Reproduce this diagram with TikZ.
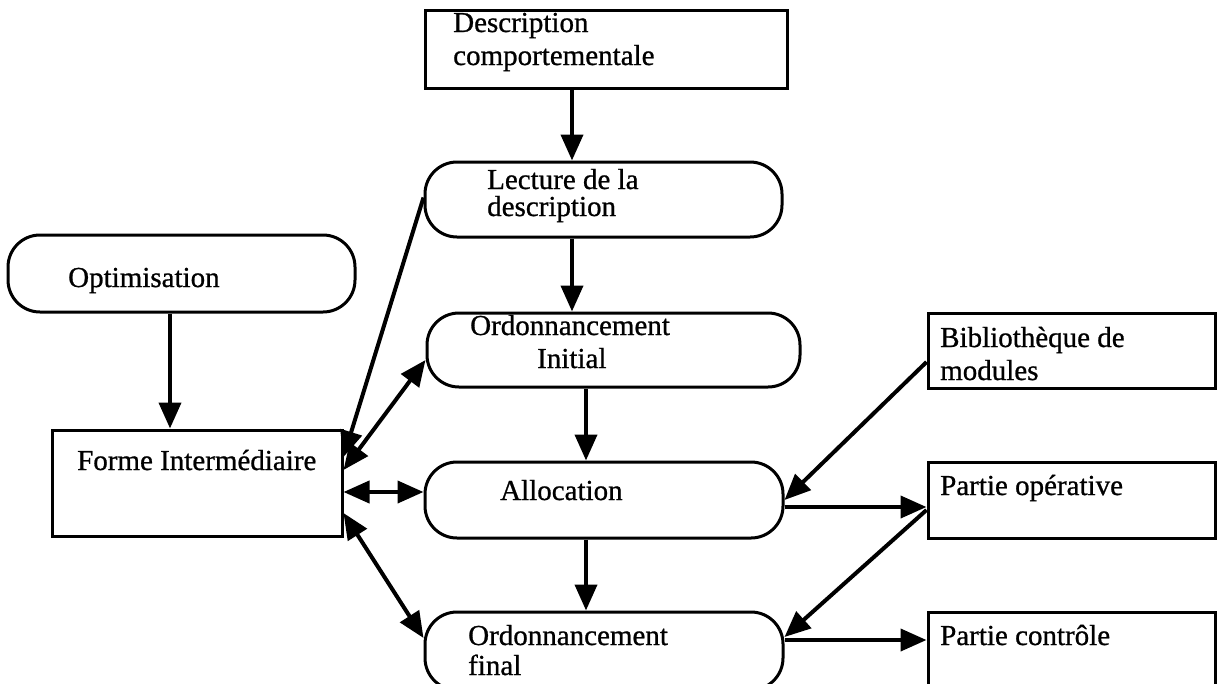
\documentclass[tikz,border=0pt]{standalone}
\usepackage{fontspec}
\setmainfont{Liberation Serif}
\newfontfamily\diafont[FakeBold=0.8]{Liberation Serif}
\usetikzlibrary{arrows.meta}
\tikzset{
  box/.style={draw, rectangle, line width=3pt, inner sep=0pt},
  rbox/.style={box, rounded corners=32pt},
  arr/.style={line width=4pt, -{Triangle[length=26pt,width=22pt]}},
  darr/.style={line width=4pt, {Triangle[length=26pt,width=22pt]}-{Triangle[length=26pt,width=22pt]}},
  txt/.style={anchor=base west, inner sep=0pt, font=\diafont\fontsize{29}{33}\selectfont}
}

\begin{document}
\begin{tikzpicture}[x=1pt, y=-1pt]
    \useasboundingbox (0,0) rectangle (1225,683);
    \clip (0,0) rectangle (1225,683);
    \node[box, minimum width=362pt, minimum height=78pt] (desc) at (606,49) {};
    \node[rbox, minimum width=357pt, minimum height=75pt] (lect) at (603.5,199.5) {};
    \node[rbox, minimum width=347pt, minimum height=77pt] (opt) at (181.5,273.5) {};
    \node[rbox, minimum width=373pt, minimum height=74pt] (oinit) at (613.5,350) {};
    \node[box, minimum width=287pt, minimum height=75pt] (biblio) at (1071.5,350.5) {};
    \node[box, minimum width=290pt, minimum height=106pt] (forme) at (197,483) {};
    \node[rbox, minimum width=358pt, minimum height=76pt] (alloc) at (604,500) {};
    \node[box, minimum width=287pt, minimum height=76pt] (pop) at (1071.5,500) {};
    \node[rbox, minimum width=358pt, minimum height=78pt] (ofinal) at (604,651) {};
    \node[box, minimum width=287pt, minimum height=78pt] (pctrl) at (1071.5,651) {};

    \node[txt] (tdesc) at (453,32) {Description};
    \node[txt] (tcomp) at (453,65) {comportementale};
    \node[txt] (tlect) at (487,189) {Lecture de la};
    \node[txt] (tdescr) at (487,216) {description};
    \node[txt] (topt) at (68,287) {Optimisation};
    \node[txt] (tordi) at (470,335) {Ordonnancement};
    \node[txt] (tinit) at (537,368) {Initial};
    \node[txt] (tbib) at (940,347) {Bibliothèque de};
    \node[txt] (tmod) at (940,380) {modules};
    \node[txt] (tforme) at (77,470) {Forme Intermédiaire};
    \node[txt] (talloc) at (500,500) {Allocation};
    \node[txt] (tpop) at (940,495) {Partie opérative};
    \node[txt] (tordf) at (468,645) {Ordonnancement};
    \node[txt] (tfinal) at (468,675) {final};
    \node[txt] (tpctrl) at (940,645) {Partie contrôle};

    \draw[arr] ([xshift=-34pt]desc.south) -- ([xshift=-31.5pt]lect.north);
    \draw[arr] ([xshift=-31.5pt]lect.south) -- ([xshift=-41.5pt]oinit.north);
    \draw[arr] ([xshift=-27.5pt]oinit.south) -- ([xshift=-18pt]alloc.north);
    \draw[arr] ([xshift=-18pt]alloc.south) -- ([xshift=-18pt]ofinal.north);
    \draw[arr] ([xshift=-11.5pt]opt.south) -- ([xshift=-27pt]forme.north);
    \draw[arr] ([yshift=2pt]lect.west) -- ([yshift=26pt]forme.east);
    \draw[darr] ([yshift=13pt]forme.east) -- ([yshift=-10pt]oinit.west);
    \draw[darr] ([yshift=-9pt]forme.east) -- ([yshift=8pt]alloc.west);
    \draw[darr] ([yshift=-30pt]forme.east) -- ([yshift=13pt]ofinal.west);
    \draw[arr] ([yshift=-11.5pt]biblio.west) -- (alloc.east);
    \draw[arr] ([yshift=-7pt]alloc.east) -- ([yshift=-7pt]pop.west);
    \draw[arr] ([yshift=-10pt]pop.west) -- ([yshift=14pt]ofinal.east);
    \draw[arr] ([yshift=11pt]ofinal.east) -- ([yshift=11pt]pctrl.west);
\end{tikzpicture}
\end{document}
